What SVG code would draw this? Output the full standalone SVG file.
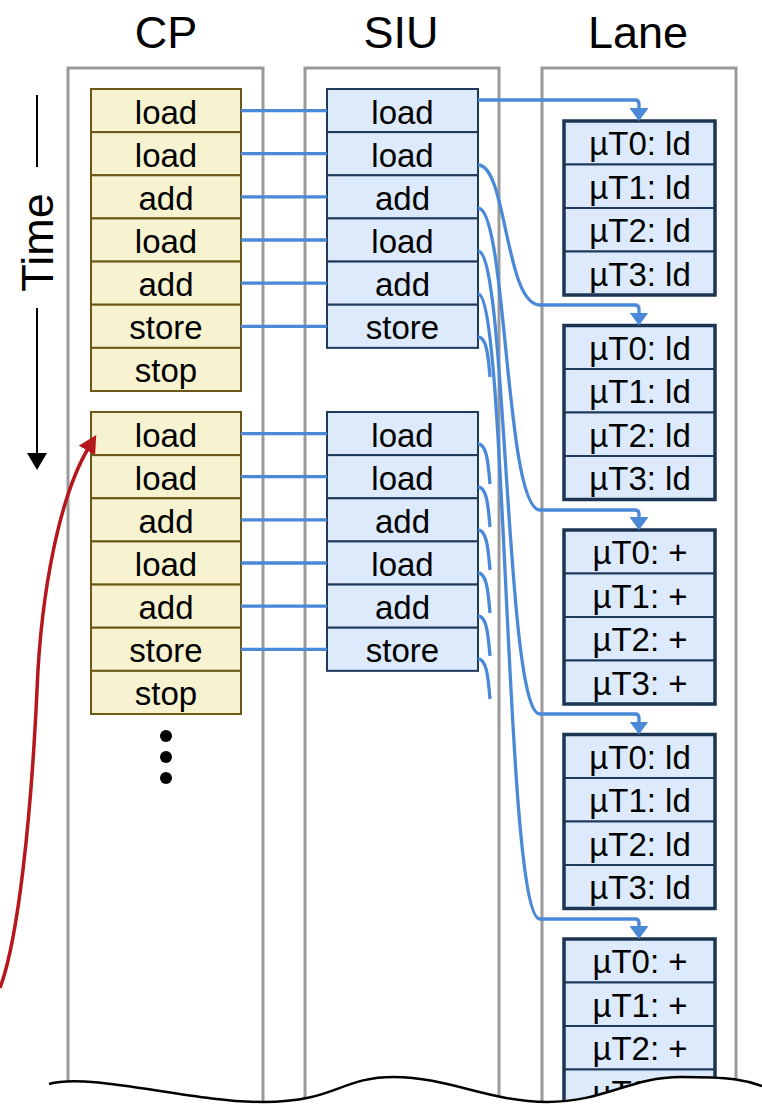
<svg xmlns="http://www.w3.org/2000/svg" width="762" height="1104" viewBox="0 0 762 1104">
<style>
text{font-family:"Liberation Sans",Arial,sans-serif;fill:#000;text-anchor:middle}
.hdr{font-size:45px}
.t{font-size:33px}
.frame{fill:none;stroke:#9a9a9a;stroke-width:3}
.cp{fill:#f7f2cf;stroke:#6b5816;stroke-width:2}
.siu{fill:#dceafb;stroke:#1e3a5c;stroke-width:2}
.ln{fill:#dceafb;stroke:#1e3a5c;stroke-width:2}
.lo{fill:none;stroke:#1b3553;stroke-width:3.5}
.c{fill:none;stroke:#4a88d8;stroke-width:3.3}
.ca{fill:none;stroke:#4a88d8;stroke-width:3.3;marker-end:url(#ab)}
</style>
<defs>
<marker id="ab" markerUnits="userSpaceOnUse" markerWidth="13" markerHeight="19" refX="3" refY="9.5" orient="auto" viewBox="0 0 13 19">
<path d="M0,0 L13,9.5 L0,19 z" fill="#4a88d8"/>
</marker>
<marker id="ar" markerUnits="userSpaceOnUse" markerWidth="18" markerHeight="19" refX="4" refY="9.5" orient="auto" viewBox="0 0 18 19">
<path d="M0,0 L18,9.5 L0,19 z" fill="#b5171c"/>
</marker>
<marker id="ak" markerUnits="userSpaceOnUse" markerWidth="17" markerHeight="20" refX="2" refY="10" orient="auto" viewBox="0 0 17 20">
<path d="M0,0 L17,10 L0,20 z" fill="#000"/>
</marker>
</defs>
<rect width="762" height="1104" fill="#fff"/>

<g id="headers">
<text class="hdr" x="166" y="48">CP</text>
<text class="hdr" x="401" y="48">SIU</text>
<text class="hdr" x="638" y="48">Lane</text>
</g>

<g id="frames">
<rect class="frame" x="68" y="68" width="195" height="1100"/>
<rect class="frame" x="305" y="68" width="194" height="1100"/>
<rect class="frame" x="542" y="68" width="194" height="1100"/>
</g>

<g id="time-axis">
<line x1="37" y1="95" x2="37" y2="167" stroke="#000" stroke-width="2"/>
<line x1="37" y1="308" x2="37" y2="455" stroke="#000" stroke-width="2" marker-end="url(#ak)"/>
<text class="hdr" transform="translate(53,242.5) rotate(-90)">Time</text>
</g>

<g id="cp-group1">
<rect class="cp" x="91" y="89" width="150" height="43.14"/><text class="t" x="166" y="123.5">load</text>
<rect class="cp" x="91" y="132.14" width="150" height="43.14"/><text class="t" x="166" y="166.6">load</text>
<rect class="cp" x="91" y="175.29" width="150" height="43.14"/><text class="t" x="166" y="209.8">add</text>
<rect class="cp" x="91" y="218.43" width="150" height="43.14"/><text class="t" x="166" y="252.9">load</text>
<rect class="cp" x="91" y="261.57" width="150" height="43.14"/><text class="t" x="166" y="296.1">add</text>
<rect class="cp" x="91" y="304.71" width="150" height="43.14"/><text class="t" x="166" y="339.2">store</text>
<rect class="cp" x="91" y="347.86" width="150" height="43.14"/><text class="t" x="166" y="382.4">stop</text>
</g>
<g id="cp-group2">
<rect class="cp" x="91" y="412" width="150" height="43.14"/><text class="t" x="166" y="446.5">load</text>
<rect class="cp" x="91" y="455.14" width="150" height="43.14"/><text class="t" x="166" y="489.6">load</text>
<rect class="cp" x="91" y="498.29" width="150" height="43.14"/><text class="t" x="166" y="532.8">add</text>
<rect class="cp" x="91" y="541.43" width="150" height="43.14"/><text class="t" x="166" y="575.9">load</text>
<rect class="cp" x="91" y="584.57" width="150" height="43.14"/><text class="t" x="166" y="619.1">add</text>
<rect class="cp" x="91" y="627.71" width="150" height="43.14"/><text class="t" x="166" y="662.2">store</text>
<rect class="cp" x="91" y="670.86" width="150" height="43.14"/><text class="t" x="166" y="705.4">stop</text>
</g>
<g id="ellipsis">
<circle cx="166" cy="736" r="6" fill="#000"/>
<circle cx="166" cy="757" r="6" fill="#000"/>
<circle cx="166" cy="778" r="6" fill="#000"/>
</g>

<g id="siu-group1">
<rect class="siu" x="327" y="89" width="151" height="43.14"/><text class="t" x="402.5" y="123.5">load</text>
<rect class="siu" x="327" y="132.14" width="151" height="43.14"/><text class="t" x="402.5" y="166.6">load</text>
<rect class="siu" x="327" y="175.29" width="151" height="43.14"/><text class="t" x="402.5" y="209.8">add</text>
<rect class="siu" x="327" y="218.43" width="151" height="43.14"/><text class="t" x="402.5" y="252.9">load</text>
<rect class="siu" x="327" y="261.57" width="151" height="43.14"/><text class="t" x="402.5" y="296.1">add</text>
<rect class="siu" x="327" y="304.71" width="151" height="43.14"/><text class="t" x="402.5" y="339.2">store</text>
</g>
<g id="siu-group2">
<rect class="siu" x="327" y="412" width="151" height="43.14"/><text class="t" x="402.5" y="446.5">load</text>
<rect class="siu" x="327" y="455.14" width="151" height="43.14"/><text class="t" x="402.5" y="489.6">load</text>
<rect class="siu" x="327" y="498.29" width="151" height="43.14"/><text class="t" x="402.5" y="532.8">add</text>
<rect class="siu" x="327" y="541.43" width="151" height="43.14"/><text class="t" x="402.5" y="575.9">load</text>
<rect class="siu" x="327" y="584.57" width="151" height="43.14"/><text class="t" x="402.5" y="619.1">add</text>
<rect class="siu" x="327" y="627.71" width="151" height="43.14"/><text class="t" x="402.5" y="662.2">store</text>
</g>

<g id="lane-1">
<rect class="ln" x="564" y="121" width="151" height="43.5"/><text class="t" x="640" y="155">µT0: ld</text>
<rect class="ln" x="564" y="164.5" width="151" height="43.5"/><text class="t" x="640" y="198.5">µT1: ld</text>
<rect class="ln" x="564" y="208" width="151" height="43.5"/><text class="t" x="640" y="242">µT2: ld</text>
<rect class="ln" x="564" y="251.5" width="151" height="43.5"/><text class="t" x="640" y="285.5">µT3: ld</text>
<rect class="lo" x="564" y="121" width="151" height="174"/>
</g>
<g id="lane-2">
<rect class="ln" x="564" y="325.5" width="151" height="43.5"/><text class="t" x="640" y="359.5">µT0: ld</text>
<rect class="ln" x="564" y="369" width="151" height="43.5"/><text class="t" x="640" y="403">µT1: ld</text>
<rect class="ln" x="564" y="412.5" width="151" height="43.5"/><text class="t" x="640" y="446.5">µT2: ld</text>
<rect class="ln" x="564" y="456" width="151" height="43.5"/><text class="t" x="640" y="490">µT3: ld</text>
<rect class="lo" x="564" y="325.5" width="151" height="174"/>
</g>
<g id="lane-3">
<rect class="ln" x="564" y="530" width="151" height="43.5"/><text class="t" x="640" y="564">µT0: +</text>
<rect class="ln" x="564" y="573.5" width="151" height="43.5"/><text class="t" x="640" y="607.5">µT1: +</text>
<rect class="ln" x="564" y="617" width="151" height="43.5"/><text class="t" x="640" y="651">µT2: +</text>
<rect class="ln" x="564" y="660.5" width="151" height="43.5"/><text class="t" x="640" y="694.5">µT3: +</text>
<rect class="lo" x="564" y="530" width="151" height="174"/>
</g>
<g id="lane-4">
<rect class="ln" x="564" y="734.5" width="151" height="43.5"/><text class="t" x="640" y="768.5">µT0: ld</text>
<rect class="ln" x="564" y="778" width="151" height="43.5"/><text class="t" x="640" y="812">µT1: ld</text>
<rect class="ln" x="564" y="821.5" width="151" height="43.5"/><text class="t" x="640" y="855.5">µT2: ld</text>
<rect class="ln" x="564" y="865" width="151" height="43.5"/><text class="t" x="640" y="899">µT3: ld</text>
<rect class="lo" x="564" y="734.5" width="151" height="174"/>
</g>
<g id="lane-5">
<rect class="ln" x="564" y="939" width="151" height="43.5"/><text class="t" x="640" y="973">µT0: +</text>
<rect class="ln" x="564" y="982.5" width="151" height="43.5"/><text class="t" x="640" y="1016.5">µT1: +</text>
<rect class="ln" x="564" y="1026" width="151" height="43.5"/><text class="t" x="640" y="1060">µT2: +</text>
<rect class="ln" x="564" y="1069.5" width="151" height="43.5"/><text class="t" x="640" y="1103.5">µT3: +</text>
<rect class="lo" x="564" y="939" width="151" height="174"/>
</g>

<g id="connectors">
<path class="c" d="M241,110.6 H327 M241,153.7 H327 M241,196.9 H327 M241,240 H327 M241,283.2 H327 M241,326.3 H327"/>
<path class="c" d="M241,433.6 H327 M241,476.7 H327 M241,519.9 H327 M241,563 H327 M241,606.2 H327 M241,649.3 H327"/>
<path class="ca" d="M478,100 L635,100 Q639,100 639,104 L639,111"/>
<path class="ca" d="M478,165 C507,165 505,305 540,305 L635,305 Q639,305 639,309 L639,315.5"/>
<path class="ca" d="M478,208 C507,208 505,510 540,510 L635,510 Q639,510 639,514 L639,520"/>
<path class="ca" d="M478,251 C507,251 505,714 540,714 L635,714 Q639,714 639,718 L639,724.5"/>
<path class="ca" d="M478,294 C507,294 505,919 540,919 L635,919 Q639,919 639,923 L639,929"/>
<path class="c" d="M478,337 C486,337 488,352 490,377"/>
<path class="c" d="M478,444 C486,444 488,459 490,484 M478,487 C486,487 488,502 490,527 M478,530 C486,530 488,545 490,570 M478,573 C486,573 488,588 490,613 M478,616 C486,616 488,631 490,656 M478,659 C486,659 488,674 490,699"/>
</g>

<g id="loop-arrow">
<path d="M0,988 C18,940 31,820 37,690 C41,590 60,495 89,447" fill="none" stroke="#b5171c" stroke-width="3.5" marker-end="url(#ar)"/>
</g>

<g id="cut">
<path d="M49,1084 C90,1072 190,1102 263,1102 S340,1077 394,1077 S490,1102 547,1102 S630,1077 681,1077 S745,1080 762,1086 L762,1104 L49,1104 z" fill="#fff"/>
<path d="M49,1084 C90,1072 190,1102 263,1102 S340,1077 394,1077 S490,1102 547,1102 S630,1077 681,1077 S745,1080 762,1086" fill="none" stroke="#000" stroke-width="2.5"/>
</g>
</svg>
